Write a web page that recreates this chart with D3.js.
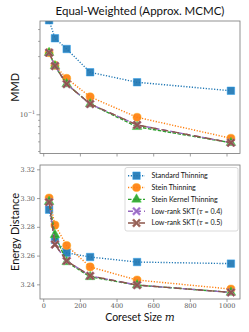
<!DOCTYPE html>
<html>
<head>
<meta charset="utf-8">
<script src="https://cdn.jsdelivr.net/npm/d3@7"></script>
<style>
  body { margin: 0; background: #fff; }
  svg { display: block; }
</style>
</head>
<body>
<script>
// coreset sizes
const sizes = [32, 64, 128, 256, 512, 1024];

const seriesNames = [
  "Standard Thinning",
  "Stein Thinning",
  "Stein Kernel Thinning",
  "Low-rank SKT (\u03c4 = 0.4)",
  "Low-rank SKT (\u03c4 = 0.5)"
];

// MMD (log scale)
const mmdStandard = [0.59, 0.42, 0.343, 0.221, 0.183, 0.156];
const mmdStein    = [0.32, 0.252, 0.197, 0.139, 0.0945, 0.0636];
const mmdSKT      = [0.32, 0.249, 0.177, 0.1215, 0.079, 0.0585];
const mmdLR04     = [0.32, 0.249, 0.177, 0.1215, 0.0817, 0.0585];
const mmdLR05     = [0.32, 0.249, 0.177, 0.1215, 0.0817, 0.0585];

// energy distance
const edStandard = [3.2919, 3.2709, 3.2619, 3.2590, 3.2555, 3.2544];
const edStein    = [3.3000, 3.2812, 3.2670, 3.2521, 3.2430, 3.2367];
const edSKT      = [3.2975, 3.2744, 3.2556, 3.2452, 3.2395, 3.2344];
const edLR04     = [3.2972, 3.2677, 3.2563, 3.2459, 3.2395, 3.2344];
const edLR05     = [3.2972, 3.2677, 3.2563, 3.2459, 3.2395, 3.2344];

const xTicks = [0, 200, 400, 600, 800, 1000];
const edTicks = [3.24, 3.26, 3.28, 3.30, 3.32];

const colors = ["#1f77b4", "#ff7f0e", "#2ca02c", "#9467bd", "#8c564b"];
const dashes = ["1.2,1.6", "1.2,1.6", "3.5,1.5", "5,3", "7,4"];
const markers = ["square", "circle", "triangle", "x", "x"];

const W = 249, H = 332;
const L = 40, R = 240;
const top1 = 21, bot1 = 153.5, top2 = 165, bot2 = 299;

const svg = d3.select("body").append("svg")
  .attr("width", W).attr("height", H);

const pad = 0.05 * (1024 - 32);
const x = d3.scaleLinear().domain([32 - pad, 1024 + pad]).range([L, R]);
const y1 = d3.scaleLog().domain([0.0477, 0.582]).range([bot1, top1]);
const y2 = d3.scaleLinear().domain([3.2298, 3.323]).range([bot2, top2]);

const defs = svg.append("defs");
defs.append("clipPath").attr("id", "clip1").append("rect")
  .attr("x", L).attr("y", top1).attr("width", R - L).attr("height", bot1 - top1);
defs.append("clipPath").attr("id", "clip2").append("rect")
  .attr("x", L).attr("y", top2).attr("width", R - L).attr("height", bot2 - top2);

const tickFont = "'DejaVu Serif', serif";
const sansFont = "Lato, 'DejaVu Sans', sans-serif";
const spine = "#777";

function symbolPath(kind) {
  if (kind === "square") return d3.symbol(d3.symbolSquare, 56)();
  if (kind === "circle") return d3.symbol(d3.symbolCircle, 52)();
  if (kind === "triangle") return d3.symbol(d3.symbolTriangle, 40)();
  // filled X like matplotlib "X"
  const a = 4.2, t = 1.5;
  return `M${-a + t},${-a} L0,${-t} L${a - t},${-a} L${a},${-a + t} L${t},0 L${a},${a - t} L${a - t},${a} L0,${t} L${-a + t},${a} L${-a},${a - t} L${-t},0 L${-a},${-a + t} Z`;
}

function drawSeries(g, yScale, all) {
  all.forEach((vals, i) => {
    const line = d3.line().x((d, j) => x(sizes[j])).y(d => yScale(d));
    g.append("path")
      .attr("d", line(vals))
      .attr("fill", "none")
      .attr("stroke", colors[i])
      .attr("stroke-width", 1.4)
      .attr("stroke-dasharray", dashes[i]);
    g.selectAll(null).data(vals).join("path")
      .attr("transform", (d, j) => `translate(${x(sizes[j])},${yScale(d)})`)
      .attr("d", symbolPath(markers[i]))
      .attr("fill", colors[i])
      .attr("fill-opacity", 0.92)
      .attr("stroke", d3.color(colors[i]).brighter(0.8))
      .attr("stroke-opacity", 0.6)
      .attr("stroke-width", 0.8);
  });
}

function frame(topY, botY) {
  svg.append("rect")
    .attr("x", L).attr("y", topY).attr("width", R - L).attr("height", botY - topY)
    .attr("fill", "none").attr("stroke", spine).attr("stroke-width", 0.8);
}

// ---- top panel: MMD
const g1 = svg.append("g").attr("clip-path", "url(#clip1)");
drawSeries(g1, y1, [mmdStandard, mmdStein, mmdSKT, mmdLR04, mmdLR05]);
frame(top1, bot1);

const xAxisTop = svg.append("g").attr("transform", `translate(0,${bot1})`)
  .call(d3.axisBottom(x).tickValues(xTicks).tickSize(3).tickFormat(""));
xAxisTop.select(".domain").remove();
xAxisTop.selectAll("line").attr("stroke", spine).attr("stroke-width", 0.7);

const minorTicks = [0.05, 0.06, 0.07, 0.08, 0.09, 0.2, 0.3, 0.4, 0.5];
const yAxis1 = svg.append("g").attr("transform", `translate(${L},0)`)
  .call(d3.axisLeft(y1).tickValues(minorTicks).tickSize(2).tickFormat(""));
yAxis1.select(".domain").remove();
yAxis1.selectAll("line").attr("stroke", spine).attr("stroke-width", 0.6);
const yMajor1 = svg.append("g").attr("transform", `translate(${L},0)`)
  .call(d3.axisLeft(y1).tickValues([0.1]).tickSize(3.5).tickFormat(""));
yMajor1.select(".domain").remove();
yMajor1.selectAll("line").attr("stroke", spine).attr("stroke-width", 0.7);
const lab = svg.append("text")
  .attr("x", L - 5).attr("y", y1(0.1) + 2.5)
  .attr("text-anchor", "end")
  .attr("font-family", tickFont).attr("font-size", 6.5).attr("fill", "#555");
lab.append("tspan").text("10");
lab.append("tspan").attr("dy", -3).attr("font-size", 4.8).text("\u22121");

svg.append("text")
  .attr("x", 140).attr("y", 15)
  .attr("text-anchor", "middle")
  .attr("font-family", sansFont).attr("font-size", 11.5).attr("fill", "#111")
  .text("Equal-Weighted (Approx. MCMC)");

svg.append("text")
  .attr("transform", `translate(19,${(top1 + bot1) / 2}) rotate(-90)`)
  .attr("text-anchor", "middle")
  .attr("font-family", sansFont).attr("font-size", 11).attr("fill", "#111")
  .text("MMD");

// ---- bottom panel: energy distance
const g2 = svg.append("g").attr("clip-path", "url(#clip2)");
drawSeries(g2, y2, [edStandard, edStein, edSKT, edLR04, edLR05]);
frame(top2, bot2);

const xAxisBot = svg.append("g").attr("transform", `translate(0,${bot2})`)
  .call(d3.axisBottom(x).tickValues(xTicks).tickSize(3).tickPadding(1.5)
    .tickFormat(d3.format("d")));
xAxisBot.select(".domain").remove();
xAxisBot.selectAll("line").attr("stroke", spine).attr("stroke-width", 0.7);
xAxisBot.selectAll("text")
  .attr("font-family", tickFont).attr("font-size", 6.5).attr("fill", "#555");

const yAxis2 = svg.append("g").attr("transform", `translate(${L},0)`)
  .call(d3.axisLeft(y2).tickValues(edTicks).tickSize(3).tickPadding(2)
    .tickFormat(d3.format(".2f")));
yAxis2.select(".domain").remove();
yAxis2.selectAll("line").attr("stroke", spine).attr("stroke-width", 0.7);
yAxis2.selectAll("text")
  .attr("font-family", tickFont).attr("font-size", 6.5).attr("fill", "#555");

svg.append("text")
  .attr("transform", `translate(19,${(top2 + bot2) / 2}) rotate(-90)`)
  .attr("text-anchor", "middle")
  .attr("font-family", sansFont).attr("font-size", 11).attr("fill", "#111")
  .text("Energy Distance");

const xl = svg.append("text")
  .attr("x", 140).attr("y", 321)
  .attr("text-anchor", "middle")
  .attr("font-family", sansFont).attr("font-size", 10.5).attr("fill", "#111");
xl.append("tspan").text("Coreset Size ");
xl.append("tspan").attr("font-family", "'DejaVu Serif', serif").attr("font-style", "italic").text("m");

// ---- legend
const leg = svg.append("g");
leg.append("rect")
  .attr("x", 125).attr("y", 167.5).attr("width", 113).attr("height", 63.5)
  .attr("rx", 2).attr("fill", "#fff").attr("fill-opacity", 0.85)
  .attr("stroke", "#ccc").attr("stroke-width", 0.7);
const legY = d3.scalePoint().domain(seriesNames).range([175.7, 223]);
seriesNames.forEach((name, i) => {
  const yy = legY(name);
  leg.append("line")
    .attr("x1", 128).attr("x2", 145).attr("y1", yy).attr("y2", yy)
    .attr("stroke", colors[i]).attr("stroke-width", 1.4)
    .attr("stroke-dasharray", dashes[i]);
  leg.append("path")
    .attr("transform", `translate(136.5,${yy})`)
    .attr("d", symbolPath(markers[i]))
    .attr("fill", colors[i]).attr("fill-opacity", 0.92)
    .attr("stroke", d3.color(colors[i]).brighter(0.8))
    .attr("stroke-opacity", 0.6).attr("stroke-width", 0.8);
  const t = leg.append("text")
    .attr("x", 151.5).attr("y", yy + 2.4)
    .attr("font-family", sansFont).attr("font-size", 7.1).attr("fill", "#111");
  const m = name.match(/^(.*\()\u03c4( = .*)$/);
  if (m) {
    t.append("tspan").text(m[1]);
    t.append("tspan").attr("font-style", "italic").attr("font-family", "'DejaVu Serif', serif").text("\u03c4");
    t.append("tspan").text(m[2]);
  } else {
    t.text(name);
  }
});
</script>
</body>
</html>
